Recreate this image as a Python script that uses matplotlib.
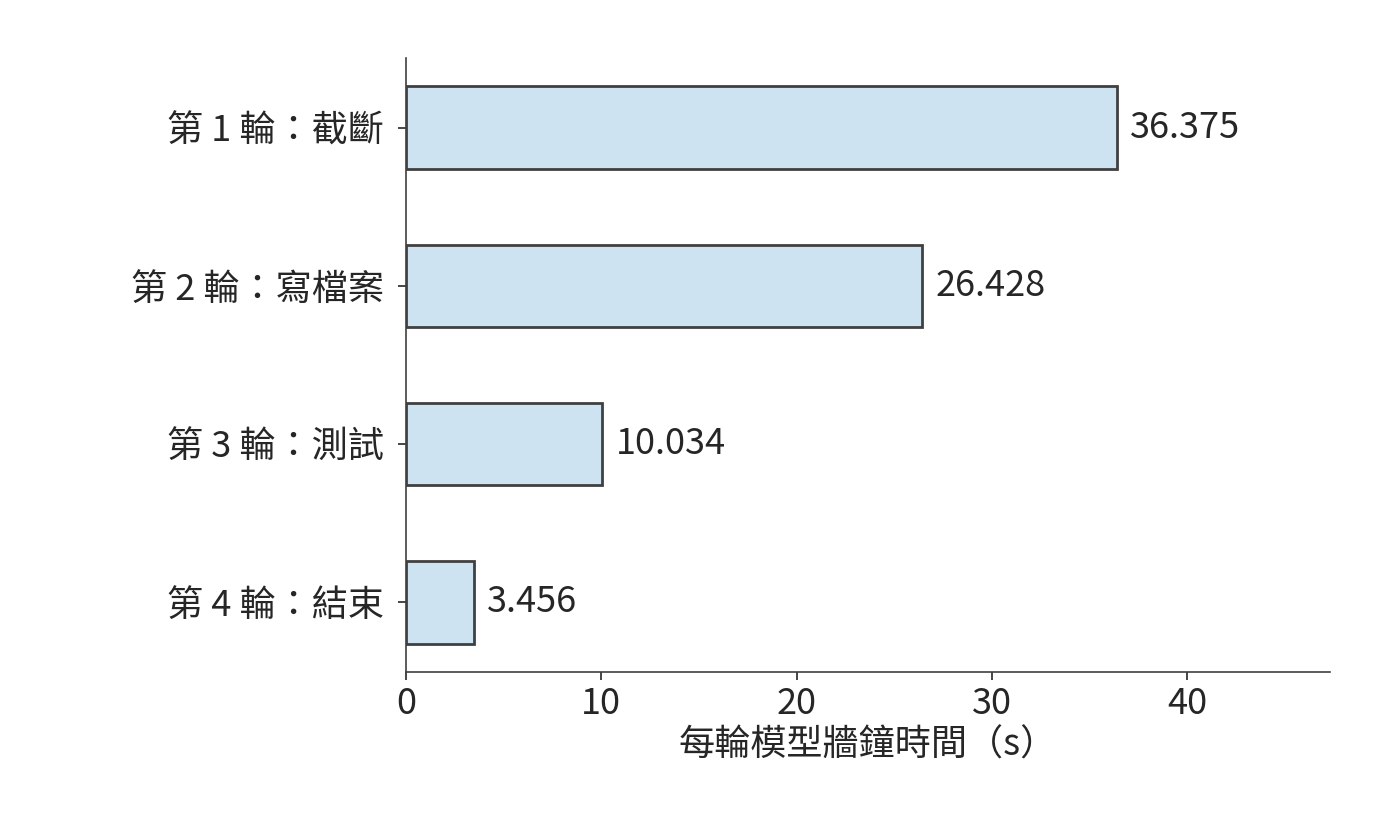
import matplotlib
matplotlib.use("Agg")
import matplotlib.pyplot as plt

plt.rcParams['font.family'] = ['Noto Sans CJK TC', 'DejaVu Sans']

labels = ["第 1 輪：截斷", "第 2 輪：寫檔案", "第 3 輪：測試", "第 4 輪：結束"]
values = [36.375, 26.428, 10.034, 3.456]
value_text = ["36.375", "26.428", "10.034", "3.456"]

fs = 26
fig = plt.figure(figsize=(14, 8.4), dpi=100)
ax = fig.add_axes([0.29, 0.2, 0.66, 0.731])
ypos = list(range(len(labels)))
ax.barh(ypos, values, height=0.52, color="#cde3f2", edgecolor="#404040", linewidth=2)
for y, v, t in zip(ypos, values, value_text):
    ax.text(v + 0.7, y, t, va="center", ha="left", fontsize=fs, color="#262626")
ax.set_yticks(ypos)
ax.set_yticklabels(labels, fontsize=fs, color="#262626")
ax.set_ylim(3.44, -0.44)
ax.set_xlim(0, 47.3)
ax.set_xticks([0, 10, 20, 30, 40])
ax.tick_params(axis='x', labelsize=fs, colors="#262626", length=6, width=1.2, pad=4)
ax.tick_params(axis='y', length=6, width=1.2, colors="#262626", pad=10)
ax.set_xlabel("每輪模型牆鐘時間（s）", fontsize=fs, color="#262626", labelpad=4)
for s in ["top", "right"]:
    ax.spines[s].set_visible(False)
for s in ["left", "bottom"]:
    ax.spines[s].set_color("#404040")
    ax.spines[s].set_linewidth(1.2)
fig.savefig("out.png", dpi=100)
